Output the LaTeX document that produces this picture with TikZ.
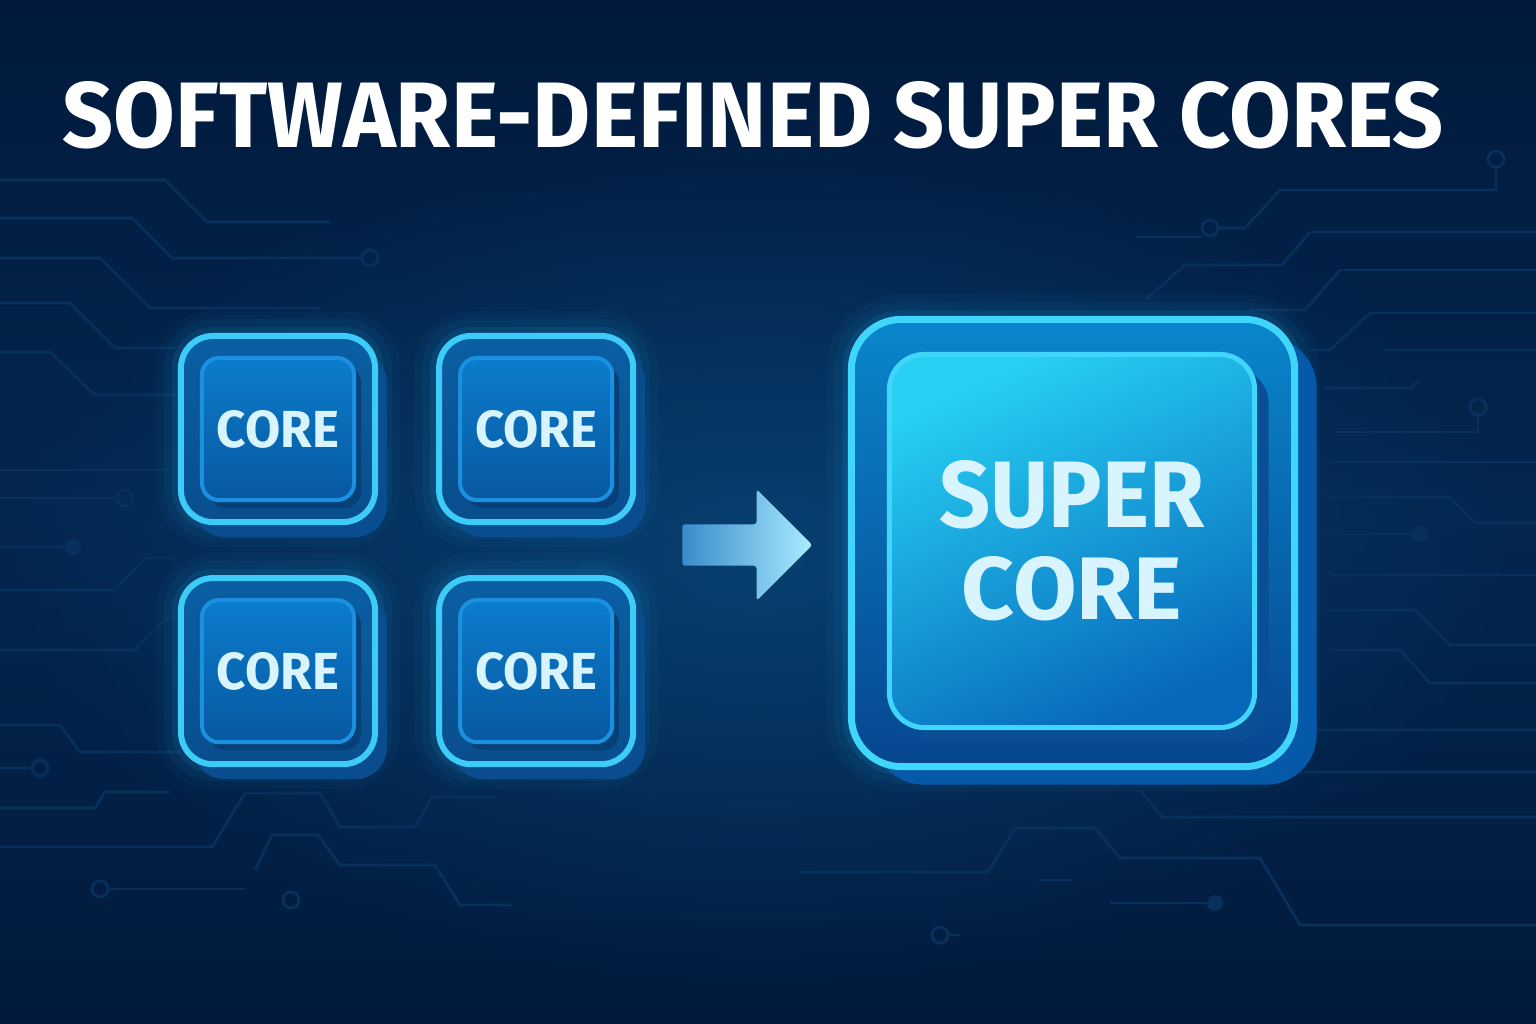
\documentclass[tikz,border=0pt]{standalone}
\usepackage{graphicx}
\usepackage{fontspec}
\setmainfont{Fira Sans}
\usetikzlibrary{positioning}
\usetikzlibrary{shapes.arrows}
\usetikzlibrary{shadows}
\usetikzlibrary{fadings}

\definecolor{bgdark}{HTML}{011A3C}
\definecolor{bgmid}{HTML}{03264F}
\definecolor{glowbg}{HTML}{0B5188}
\definecolor{trace}{HTML}{08305C}
\definecolor{rim}{HTML}{3DCBF7}
\definecolor{glowc}{HTML}{22B4F2}
\definecolor{ringtop}{HTML}{0A5FA3}
\definecolor{ringbot}{HTML}{094E8D}
\definecolor{outshadow}{HTML}{0A4D8E}
\definecolor{innerrim}{HTML}{1B8FE0}
\definecolor{innertop}{HTML}{0B7CCC}
\definecolor{innerbot}{HTML}{0858A0}
\definecolor{inshadow}{HTML}{073F77}
\definecolor{corelbl}{HTML}{D8F4FF}
\definecolor{suprim}{HTML}{40D6FB}
\definecolor{suptop}{HTML}{0A86CC}
\definecolor{supbot}{HTML}{06468F}
\definecolor{supshadow}{HTML}{0659A8}
\definecolor{supintop}{HTML}{27D0F3}
\definecolor{supinbot}{HTML}{0767BB}
\definecolor{supinshadow}{HTML}{0A4F95}
\definecolor{arrowtail}{HTML}{3A8BCB}
\definecolor{arrowtip}{HTML}{A8ECFF}

\newcommand{\fitlabel}[3]{\resizebox{#1}{#2}{\bfseries #3}}
\tikzfading[name=softglow, inner color=transparent!0, outer color=transparent!100]

\begin{document}
\begin{tikzpicture}[x=0.01cm, y=-0.01cm,
	glow/.style={preaction={draw=glowc, line width=0.5cm, opacity=0.04},
		preaction={draw=glowc, line width=0.34cm, opacity=0.06},
		preaction={draw=glowc, line width=0.18cm, opacity=0.1}},
	trace/.style={draw=trace, line width=0.8pt},
	tracedot/.style={fill=trace},
	coreouter/.style={rectangle, rounded corners=0.32cm, minimum width=1.94cm, minimum height=1.86cm,
		draw=rim, line width=0.06cm, top color=ringtop, bottom color=ringbot, glow,
		drop shadow={shadow xshift=0.12cm, shadow yshift=-0.15cm, fill=outshadow, opacity=1}},
	coreinner/.style={rectangle, rounded corners=0.17cm, minimum width=1.52cm, minimum height=1.42cm,
		draw=innerrim, line width=0.04cm, top color=innertop, bottom color=innerbot, text=corelbl, inner sep=0,
		drop shadow={shadow xshift=0.07cm, shadow yshift=-0.08cm, fill=inshadow, opacity=1}},
	superouter/.style={rectangle, rounded corners=0.5cm, minimum width=4.43cm, minimum height=4.47cm,
		draw=suprim, line width=0.07cm, top color=suptop, bottom color=supbot, glow,
		drop shadow={shadow xshift=0.22cm, shadow yshift=-0.18cm, fill=supshadow, opacity=1}},
	superinner/.style={rectangle, rounded corners=0.35cm, minimum width=3.65cm, minimum height=3.73cm,
		draw=suprim, line width=0.05cm, top color=supintop, bottom color=supinbot, shading angle=25,
		text=corelbl, inner sep=0, align=center, font=\fontsize{10}{10}\selectfont,
		drop shadow={shadow xshift=0.14cm, shadow yshift=-0.14cm, fill=supinshadow, opacity=1}},
	flowarrow/.style={single arrow, single arrow head extend=0.35cm, inner xsep=0.54cm, inner ysep=0.2cm,
		rounded corners=0.03cm, left color=arrowtail, right color=arrowtip}]

	\useasboundingbox (0,0) rectangle (1536,1024);
	% background
	\fill[top color=bgdark, bottom color=bgdark, middle color=bgmid] (0,0) rectangle (1536,1024);
	\fill[glowbg, opacity=0.6, path fading=softglow] (760,560) ellipse [x radius=760, y radius=430];

	% circuit traces, left
	\draw[trace] (0,180) -- (165,180) -- (207,222) -- (330,222);
	\draw[trace] (0,218) -- (132,218) -- (172,258) -- (362,258);
	\draw[trace] (370,258) circle [radius=8];
	\draw[trace] (0,258) -- (100,258) -- (150,308) -- (320,308);
	\draw[trace] (0,303) -- (70,303) -- (115,348) -- (175,348);
	\draw[trace] (0,352) -- (50,352) -- (95,395) -- (175,395);
	\draw[trace] (0,470) -- (170,470);
	\draw[trace] (0,498) -- (117,498);
	\draw[trace] (125,498) circle [radius=8];
	\draw[trace] (0,547) -- (65,547);
	\fill[tracedot] (73,547) circle [radius=8];
	\draw[trace] (0,590) -- (115,590) -- (145,558) -- (175,558);
	\draw[trace] (0,650) -- (135,650) -- (165,620) -- (175,617);
	\draw[trace] (0,725) -- (60,725) -- (80,752) -- (180,752);
	\draw[trace] (0,768) -- (32,768);
	\draw[trace] (40,768) circle [radius=8];
	\draw[trace] (0,808) -- (95,808) -- (105,792) -- (170,792);
	\draw[trace] (0,847) -- (212,847) -- (245,793) -- (320,793) -- (340,827) -- (415,827) -- (432,797) -- (495,797);
	\draw[trace] (108,889) -- (245,889);
	\draw[trace] (100,889) circle [radius=8];
	\draw[trace] (255,870) -- (272,835) -- (318,835) -- (340,865) -- (435,865) -- (460,905) -- (512,905);
	\draw[trace] (291,900) circle [radius=8];

	% circuit traces, right
	\draw[trace] (1496,159) circle [radius=8];
	\draw[trace] (1496,167) -- (1496,190) -- (1280,190) -- (1245,228) -- (1218,228);
	\draw[trace] (1210,228) circle [radius=8];
	\draw[trace] (1136,237) -- (1202,237);
	\draw[trace] (1310,232) -- (1536,232);
	\draw[trace] (1310,232) -- (1282,265) -- (1185,265) -- (1145,300);
	\draw[trace] (1340,270) -- (1536,270);
	\draw[trace] (1340,270) -- (1305,310) -- (1250,310);
	\draw[trace] (1370,313) -- (1536,313);
	\draw[trace] (1370,313) -- (1330,350) -- (1310,350);
	\draw[trace] (1385,350) -- (1536,350);
	\draw[trace] (1325,388) -- (1410,388) -- (1420,380);
	\draw[trace] (1330,432) -- (1478,432) -- (1478,415);
	\draw[trace] (1478,407) circle [radius=8];
	\draw[trace] (1330,462) -- (1536,462);
	\draw[trace] (1330,497) -- (1450,497) -- (1475,523) -- (1536,523);
	\draw[trace] (1330,534) -- (1420,534);
	\fill[tracedot] (1420,534) circle [radius=8];
	\draw[trace] (1330,575) -- (1536,575);
	\draw[trace] (1325,610) -- (1415,610) -- (1450,645) -- (1536,645);
	\draw[trace] (1330,650) -- (1400,650) -- (1430,683) -- (1536,683);
	\draw[trace] (1210,700) -- (1225,730) -- (1536,730);
	\draw[trace] (1170,745) -- (1195,772) -- (1536,772);
	\draw[trace] (1140,790) -- (1162,817) -- (1536,817);
	\draw[trace] (800,872) -- (988,872) -- (1015,828) -- (1095,828) -- (1120,858) -- (1260,858) -- (1300,925) -- (1536,925);
	\draw[trace] (1037,880) -- (1072,880);
	\draw[trace] (1110,903) -- (1207,903);
	\fill[tracedot] (1215,903) circle [radius=8];
	\draw[trace] (948,935) -- (960,935);
	\draw[trace] (940,935) circle [radius=8];

	% title
	\node[anchor=south west, inner sep=0, text=white] (title) at (62,150) {\fitlabel{13.8cm}{0.66cm}{SOFTWARE-DEFINED SUPER CORES}};

	% four cores
	\node[coreouter] (core1) at (278,429) {};
	\node[coreouter, right=0.58cm of core1] (core2) {};
	\node[coreouter, below=0.5cm of core1] (core3) {};
	\node[coreouter, right=0.58cm of core3] (core4) {};
	\node[coreinner] (inner1) at (core1.center) {\fitlabel{1.22cm}{0.37cm}{CORE}};
	\node[coreinner] (inner2) at (core2.center) {\fitlabel{1.22cm}{0.37cm}{CORE}};
	\node[coreinner] (inner3) at (core3.center) {\fitlabel{1.22cm}{0.37cm}{CORE}};
	\node[coreinner] (inner4) at (core4.center) {\fitlabel{1.22cm}{0.37cm}{CORE}};

	% merge arrow
	\node[flowarrow] (merge) at (737,545) {};

	% super core
	\node[superouter] (super) at (1073,543) {};
	\node[superinner] (superin) at (1072,541) {\fitlabel{2.65cm}{0.67cm}{SUPER}\\[0.235cm]\fitlabel{2.2cm}{0.63cm}{CORE}};
\end{tikzpicture}
\end{document}
